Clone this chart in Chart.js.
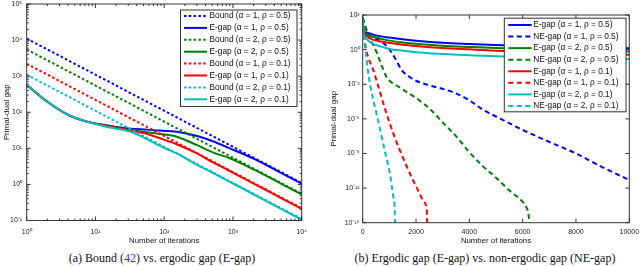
<!DOCTYPE html>
<html>
<head>
<meta charset="utf-8">
<title>Primal-dual gap</title>
<script src="https://cdn.jsdelivr.net/npm/chart.js@4.4.1/dist/chart.umd.min.js"></script>
<style>
  body { margin: 0; background: #fff; }
  #wrap { position: relative; width: 640px; height: 266px; overflow: hidden; }
  canvas { position: absolute; top: 0; }
  #chartA { left: 0; }
  #chartB { left: 320px; }
  .caption { position: absolute; top: 251px; font-family: "Liberation Serif", serif; font-size: 12px; line-height: 14px; color: #111; white-space: nowrap; transform: translateX(-50%); }
  .ref { color: #3333ff; }
</style>
</head>
<body>
<div id="wrap">
  <canvas id="chartA" width="320" height="248"></canvas>
  <canvas id="chartB" width="320" height="248"></canvas>
  <div class="caption" style="left:162px">(a) Bound (<span class="ref">42</span>) vs. ergodic gap (E-gap)</div>
  <div class="caption" style="left:485px">(b) Ergodic gap (E-gap) vs. non-ergodic gap (NE-gap)</div>
</div>
<script>
// Colores tipo MATLAB
const BLUE = '#0000ff', GREEN = '#008000', RED = '#ff0000', CYAN = '#00bfbf';
const FONT = 'Liberation Sans';

// ---- (a) Bound vs. E-gap (log-log) ----
const boundIters = [1, 10000];
const boundA1R05 = [11000, 1.1];
const boundA2R05 = [5500, 0.55];
const boundA1R01 = [2200, 0.22];
const boundA2R01 = [1100, 0.11];

const egapItersA = [1, 2, 4, 7.5, 15, 32, 56, 87, 152, 300, 520, 900, 2000, 5000, 10000];
const egapA1R05 = [570, 195, 85, 55, 43, 35, 33, 31, 29, 22, 15.5, 10, 5.2, 2.1, 1.05];
const egapA2R05 = [570, 195, 85, 55, 42, 32, 28, 25, 21, 12.3, 7.6, 5.3, 2.6, 1.05, 0.53];
const egapA1R01 = [570, 195, 85, 55, 41, 31, 25, 19, 13, 7.2, 4.0, 2.35, 1.05, 0.42, 0.21];
const egapA2R01 = [570, 195, 85, 55, 39, 29, 18, 11.7, 7.2, 3.5, 2.05, 1.18, 0.53, 0.21, 0.105];

// ---- (b) E-gap vs. NE-gap (lineal-log) ----
const egapItersB = [1, 20, 100, 200, 400, 700, 1000, 1500, 2000, 3000, 4000, 5000, 6000, 7000, 8000, 9000, 10000];
const egapB_A1R05 = [570, 42, 32, 28, 20, 14, 11, 7.8, 6, 4, 3.1, 2.5, 2.1, 1.8, 1.6, 1.45, 1.3];
const egapB_A2R05 = [570, 40, 25, 20, 13, 8.5, 6, 4.2, 3.2, 2.2, 1.7, 1.35, 1.15, 1.0, 0.88, 0.78, 0.7];
const egapB_A1R01 = [570, 38, 18, 12, 7, 5, 3.8, 2.7, 2.1, 1.4, 1.05, 0.8, 0.66, 0.56, 0.48, 0.41, 0.36];
const egapB_A2R01 = [570, 36, 11, 6.2, 3.2, 1.8, 1.15, 0.8, 0.6, 0.42, 0.32, 0.26, 0.23, 0.2, 0.18, 0.16, 0.15];

const negapItersA1R05 = [1, 200, 400, 700, 900, 1100, 1250, 1450, 1750, 2000, 2500, 3000, 3500, 4000, 4500, 5000, 6000, 7000, 8000, 9000, 10000];
const negapA1R05 = [570, 25, 11, 5, 2, 0.5, 0.13, 0.018, 4.5e-3, 2e-3, 8e-4, 4e-4, 1.6e-4, 4e-5, 6.3e-6, 1.6e-6, 1.1e-7, 1e-8, 1e-9, 6.3e-11, 5e-12];
const negapItersA2R05 = [1, 200, 400, 550, 700, 900, 1100, 1300, 1600, 2000, 2500, 3000, 3500, 4000, 4500, 5000, 5500, 6000, 6150, 6230, 6250];
const negapA2R05 = [570, 16, 2.5, 0.4, 0.05, 4e-3, 1.3e-3, 7e-4, 2.5e-4, 6.3e-5, 8e-6, 5e-7, 3.2e-8, 1.3e-9, 8e-11, 8e-12, 6.3e-13, 6.3e-14, 2e-14, 3.2e-15, 6.3e-16];
const negapItersA1R01 = [1, 100, 200, 400, 650, 900, 1200, 1500, 1800, 2100, 2300, 2400, 2420];
const negapA1R01 = [570, 2.5, 0.25, 0.016, 2e-4, 2.5e-6, 2.5e-8, 5e-10, 1.3e-11, 5e-13, 6.3e-14, 1.6e-14, 6.3e-16];
const negapItersA2R01 = [1, 50, 100, 200, 300, 450, 650, 850, 1025, 1150, 1200, 1215];
const negapA2R01 = [570, 8, 1, 0.0126, 5e-4, 1.3e-5, 1.3e-7, 1e-9, 1.6e-11, 1.6e-13, 1.6e-14, 6.3e-16];

// Ticks
const xTicksA = [1, 10, 100, 1000, 10000];
const yTicksA = [0.1, 1, 10, 100, 1000, 10000, 100000];
const minorSteps = [2, 3, 4, 5, 6, 7, 8, 9];
const xTicksB = [0, 2000, 4000, 6000, 8000, 10000];
const yTicksB = [1e-15, 1e-12, 1e-9, 1e-6, 1e-3, 1, 1e3];

const toPoints = (xs, ys) => xs.map((x, i) => ({ x, y: ys[i] }));
const SUP = { '-': '⁻', '0': '⁰', '1': '¹', '2': '²', '3': '³', '4': '⁴', '5': '⁵', '6': '⁶', '7': '⁷', '8': '⁸', '9': '⁹' };
const pow10Label = v => '10' + String(Math.round(Math.log10(v))).split('').map(c => SUP[c]).join('');

function withMinor(decades) {
    const out = [];
    decades.forEach((d, i) => {
        out.push({ value: d, major: true });
        if (i < decades.length - 1) minorSteps.forEach(m => out.push({ value: d * m, major: false }));
    });
    return out;
}

// Caja, ticks hacia dentro y leyenda al estilo MATLAB
const matlabFrame = {
    id: 'matlabFrame',
    afterDraw(chart, args, opts) {
        const { ctx, chartArea: a } = chart;
        const xs = chart.scales.x, ys = chart.scales.y;
        ctx.save();
        ctx.strokeStyle = '#333';
        ctx.lineWidth = 1;
        ctx.beginPath();
        xs.ticks.forEach(t => {
            const px = xs.getPixelForValue(t.value);
            const len = t.major ? 4 : 2;
            ctx.moveTo(px, a.bottom); ctx.lineTo(px, a.bottom - len);
            ctx.moveTo(px, a.top); ctx.lineTo(px, a.top + len);
        });
        ys.ticks.forEach(t => {
            const py = ys.getPixelForValue(t.value);
            const len = t.major ? 4 : 2;
            ctx.moveTo(a.left, py); ctx.lineTo(a.left + len, py);
            ctx.moveTo(a.right, py); ctx.lineTo(a.right - len, py);
        });
        ctx.stroke();
        ctx.strokeRect(a.left, a.top, a.right - a.left, a.bottom - a.top);

        // leyenda
        const L = opts.box;
        ctx.fillStyle = '#fff';
        ctx.fillRect(L.x, L.y, L.w, L.h);
        ctx.strokeRect(L.x, L.y, L.w, L.h);
        ctx.font = L.fontSize + 'px "' + FONT + '"';
        ctx.textBaseline = 'middle';
        chart.data.datasets.forEach((ds, i) => {
            const y = L.firstRow + i * L.rowH;
            ctx.strokeStyle = ds.borderColor;
            ctx.lineWidth = ds.borderWidth;
            ctx.setLineDash(ds.borderDash || []);
            ctx.beginPath();
            ctx.moveTo(L.lineX0, y);
            ctx.lineTo(L.lineX1, y);
            ctx.stroke();
            ctx.setLineDash([]);
            ctx.fillStyle = '#111';
            ctx.fillText(ds.label, L.textX, y);
        });
        ctx.restore();
    }
};

const dotted = [2.5, 2.3];
const dashed = [5, 3.5];

function series(label, color, xs, ys, dash, smooth) {
    return {
        label, data: toPoints(xs, ys), borderColor: color, borderWidth: 2,
        borderDash: dash, clip: 0, tension: 0,
        cubicInterpolationMode: smooth ? 'monotone' : 'default'
    };
}

function withOrder(list) {
    // el último dibujado encima, como en MATLAB
    list.forEach((ds, i) => { ds.order = list.length - i; });
    return list;
}

const tickFont = { family: FONT, size: 7 };
const tickColor = '#262626';

// ---- Gráfico (a) ----
new Chart(document.getElementById('chartA'), {
    type: 'line',
    data: {
        datasets: withOrder([
            series('Bound (α = 1, ρ = 0.5)', BLUE, boundIters, boundA1R05, dotted, false),
            series('E-gap (α = 1, ρ = 0.5)', BLUE, egapItersA, egapA1R05, [], true),
            series('Bound (α = 2, ρ = 0.5)', GREEN, boundIters, boundA2R05, dotted, false),
            series('E-gap (α = 2, ρ = 0.5)', GREEN, egapItersA, egapA2R05, [], true),
            series('Bound (α = 1, ρ = 0.1)', RED, boundIters, boundA1R01, dotted, false),
            series('E-gap (α = 1, ρ = 0.1)', RED, egapItersA, egapA1R01, [], true),
            series('Bound (α = 2, ρ = 0.1)', CYAN, boundIters, boundA2R01, dotted, false),
            series('E-gap (α = 2, ρ = 0.1)', CYAN, egapItersA, egapA2R01, [], true)
        ])
    },
    options: {
        responsive: false,
        animation: false,
        events: [],
        layout: { padding: { top: 4, right: 18.3, left: 0, bottom: 0 } },
        elements: { point: { radius: 0 }, line: { borderCapStyle: 'butt' } },
        plugins: {
            legend: { display: false },
            tooltip: { enabled: false },
            matlabFrame: { box: { x: 180.5, y: 10, w: 116.5, h: 96.5, firstRow: 16, rowH: 11.9, lineX0: 184, lineX1: 207, textX: 209.5, fontSize: 8.3 } }
        },
        scales: {
            x: {
                type: 'logarithmic', min: 1, max: 10000,
                grid: { display: false, drawTicks: false }, border: { display: false },
                afterBuildTicks: s => { s.ticks = withMinor(xTicksA); },
                afterFit: s => { s.height = 27.5; s.paddingLeft = 0; s.paddingRight = 0; },
                ticks: { autoSkip: false, maxRotation: 0, minRotation: 0, padding: 7, color: tickColor, font: tickFont,
                         callback: (v, i, t) => t[i].major ? pow10Label(v) : '' },
                title: { display: true, text: 'Number of iterations', color: '#111', font: { family: FONT, size: 7.8 }, padding: { top: 0, bottom: 2.3 } }
            },
            y: {
                type: 'logarithmic', min: 0.1, max: 100000,
                grid: { display: false, drawTicks: false }, border: { display: false },
                afterBuildTicks: s => { s.ticks = withMinor(yTicksA); },
                afterFit: s => { s.width = 26.7; s.paddingTop = 0; s.paddingBottom = 0; },
                ticks: { autoSkip: false, padding: 4.5, color: tickColor, font: tickFont,
                         callback: (v, i, t) => t[i].major ? pow10Label(v) : '' },
                title: { display: true, text: 'Primal-dual gap', color: '#111', font: { family: FONT, size: 8 }, padding: { top: 2, bottom: 0 } }
            }
        }
    },
    plugins: [matlabFrame]
});

// ---- Gráfico (b) ----
new Chart(document.getElementById('chartB'), {
    type: 'line',
    data: {
        datasets: withOrder([
            series('E-gap (α = 1, ρ = 0.5)', BLUE, egapItersB, egapB_A1R05, [], true),
            series('NE-gap (α = 1, ρ = 0.5)', BLUE, negapItersA1R05, negapA1R05, dashed, true),
            series('E-gap (α = 2, ρ = 0.5)', GREEN, egapItersB, egapB_A2R05, [], true),
            series('NE-gap (α = 2, ρ = 0.5)', GREEN, negapItersA2R05, negapA2R05, dashed, true),
            series('E-gap (α = 1, ρ = 0.1)', RED, egapItersB, egapB_A1R01, [], true),
            series('NE-gap (α = 1, ρ = 0.1)', RED, negapItersA1R01, negapA1R01, dashed, true),
            series('E-gap (α = 2, ρ = 0.1)', CYAN, egapItersB, egapB_A2R01, [], true),
            series('NE-gap (α = 2, ρ = 0.1)', CYAN, negapItersA2R01, negapA2R01, dashed, true)
        ])
    },
    options: {
        responsive: false,
        animation: false,
        events: [],
        layout: { padding: { top: 15, right: 10.7, left: 0, bottom: 0 } },
        elements: { point: { radius: 0 }, line: { borderCapStyle: 'butt' } },
        plugins: {
            legend: { display: false },
            tooltip: { enabled: false },
            matlabFrame: { box: { x: 184.3, y: 18.2, w: 121.7, h: 93.6, firstRow: 25, rowH: 11.57, lineX0: 188.3, lineX1: 211.7, textX: 213.3, fontSize: 8.3 } }
        },
        scales: {
            x: {
                type: 'linear', min: 0, max: 10000,
                grid: { display: false, drawTicks: false }, border: { display: false },
                afterBuildTicks: s => { s.ticks = xTicksB.map(v => ({ value: v, major: true })); },
                afterFit: s => { s.height = 25.3; s.paddingLeft = 0; s.paddingRight = 0; },
                ticks: { autoSkip: false, maxRotation: 0, minRotation: 0, padding: 4.8, color: tickColor, font: tickFont,
                         callback: v => String(v) },
                title: { display: true, text: 'Number of iterations', color: '#111', font: { family: FONT, size: 7.8 }, padding: { top: 0, bottom: 2.3 } }
            },
            y: {
                type: 'logarithmic', min: 1e-15, max: 1e3,
                grid: { display: false, drawTicks: false }, border: { display: false },
                afterBuildTicks: s => { s.ticks = yTicksB.map(v => ({ value: v, major: true })); },
                afterFit: s => { s.width = 42.7; s.paddingTop = 0; s.paddingBottom = 0; },
                ticks: { autoSkip: false, padding: 3, color: tickColor, font: tickFont,
                         callback: v => pow10Label(v) },
                title: { display: true, text: 'Primal-dual gap', color: '#111', font: { family: FONT, size: 8 }, padding: { top: 9.2, bottom: 0 } }
            }
        }
    },
    plugins: [matlabFrame]
});
</script>
</body>
</html>
